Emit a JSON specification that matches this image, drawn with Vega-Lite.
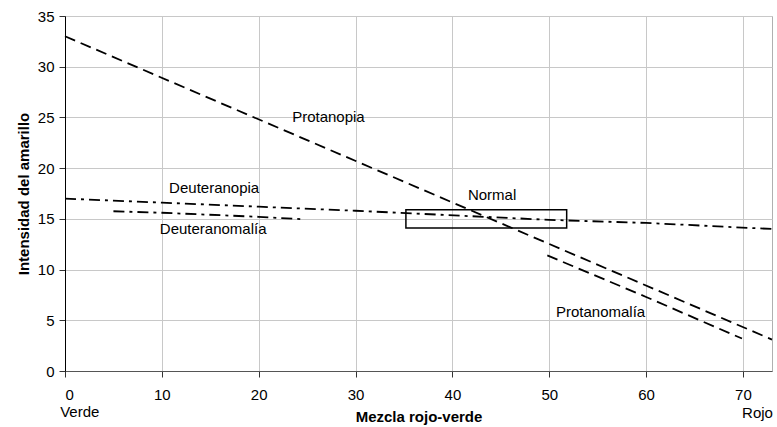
{
  "$schema": "https://vega.github.io/schema/vega-lite/v6.json",
  "width": 707,
  "height": 355,
  "autosize": {"type": "none"},
  "padding": {"left": 65, "top": 16, "right": 5, "bottom": 56},
  "background": "white",
  "config": {
    "font": "Liberation Sans",
    "view": {"stroke": "#b0b0b0", "strokeWidth": 1},
    "axis": {
      "labelFont": "Liberation Sans",
      "labelFontSize": 15,
      "labelColor": "#000",
      "titleFont": "Liberation Sans",
      "titleFontSize": 15,
      "titleFontWeight": "bold",
      "titleColor": "#000",
      "gridColor": "#c8c8c8",
      "gridWidth": 1,
      "tickColor": "#333",
      "tickSize": 6,
      "domainColor": "#444"
    }
  },
  "datasets": {
    "lines": [
      {"serie": "Protanopia", "x": 0, "y": 33.0},
      {"serie": "Protanopia", "x": 73, "y": 3.1},
      {"serie": "Deuteranopia", "x": 0, "y": 17.0},
      {"serie": "Deuteranopia", "x": 10, "y": 16.6},
      {"serie": "Deuteranopia", "x": 20, "y": 16.2},
      {"serie": "Deuteranopia", "x": 30, "y": 15.8},
      {"serie": "Deuteranopia", "x": 50, "y": 14.9},
      {"serie": "Deuteranopia", "x": 60, "y": 14.6},
      {"serie": "Deuteranopia", "x": 73, "y": 14.0},
      {"serie": "Deuteranomalía", "x": 5, "y": 15.75},
      {"serie": "Deuteranomalía", "x": 10, "y": 15.6},
      {"serie": "Deuteranomalía", "x": 20, "y": 15.2},
      {"serie": "Deuteranomalía", "x": 24.7, "y": 14.95},
      {"serie": "Protanomalía", "x": 49.8, "y": 11.4},
      {"serie": "Protanomalía", "x": 60, "y": 7.3},
      {"serie": "Protanomalía", "x": 69.9, "y": 3.2}
    ],
    "labels": [
      {"text": "Protanopia", "x": 27.2, "y": 25.0},
      {"text": "Deuteranopia", "x": 15.4, "y": 18.0},
      {"text": "Deuteranomalía", "x": 15.3, "y": 14.0},
      {"text": "Normal", "x": 44.1, "y": 17.4},
      {"text": "Protanomalía", "x": 55.3, "y": 5.85}
    ],
    "endLeft": [
      {"text": "Verde", "x": -0.5, "y": -4.05}
    ],
    "endRight": [
      {"text": "Rojo", "x": 73.1, "y": -4.1}
    ]
  },
  "layer": [
    {
      "data": {"name": "lines"},
      "mark": {"type": "line", "color": "#000", "strokeWidth": 1.8},
      "encoding": {
        "x": {
          "field": "x", "type": "quantitative",
          "scale": {"domain": [0, 73], "nice": false},
          "axis": {"values": [0, 10, 20, 30, 40, 50, 60, 70], "title": "Mezcla rojo-verde", "titlePadding": 7, "labelPadding": 10, "domainColor": "#555"}
        },
        "y": {
          "field": "y", "type": "quantitative",
          "scale": {"domain": [0, 35], "nice": false},
          "axis": {"values": [0, 5, 10, 15, 20, 25, 30, 35], "title": "Intensidad del amarillo", "titlePadding": 6, "labelPadding": 5, "domainColor": "#000"}
        },
        "detail": {"field": "serie"},
        "strokeDash": {
          "field": "serie", "type": "nominal",
          "scale": {
            "domain": ["Protanopia", "Protanomalía", "Deuteranopia", "Deuteranomalía"],
            "range": [[11, 6], [11, 6], [11, 5, 3, 5], [11, 5, 3, 5]]
          },
          "legend": null
        }
      }
    },
    {
      "data": {"values": [{"x1": 35.2, "x2": 51.8, "y1": 14.1, "y2": 15.9}]},
      "mark": {"type": "rect", "fill": null, "fillOpacity": 0, "stroke": "#000", "strokeWidth": 1.5},
      "encoding": {
        "x": {"field": "x1", "type": "quantitative"},
        "x2": {"field": "x2"},
        "y": {"field": "y1", "type": "quantitative"},
        "y2": {"field": "y2"}
      }
    },
    {
      "data": {"name": "labels"},
      "mark": {"type": "text", "fontSize": 15, "color": "#000", "baseline": "middle", "align": "center"},
      "encoding": {
        "x": {"field": "x", "type": "quantitative"},
        "y": {"field": "y", "type": "quantitative"},
        "text": {"field": "text"}
      }
    },
    {
      "data": {"name": "endLeft"},
      "mark": {"type": "text", "fontSize": 15, "color": "#000", "baseline": "middle", "align": "left"},
      "encoding": {
        "x": {"field": "x", "type": "quantitative"},
        "y": {"field": "y", "type": "quantitative"},
        "text": {"field": "text"}
      }
    },
    {
      "data": {"name": "endRight"},
      "mark": {"type": "text", "fontSize": 15, "color": "#000", "baseline": "middle", "align": "right"},
      "encoding": {
        "x": {"field": "x", "type": "quantitative"},
        "y": {"field": "y", "type": "quantitative"},
        "text": {"field": "text"}
      }
    }
  ]
}
